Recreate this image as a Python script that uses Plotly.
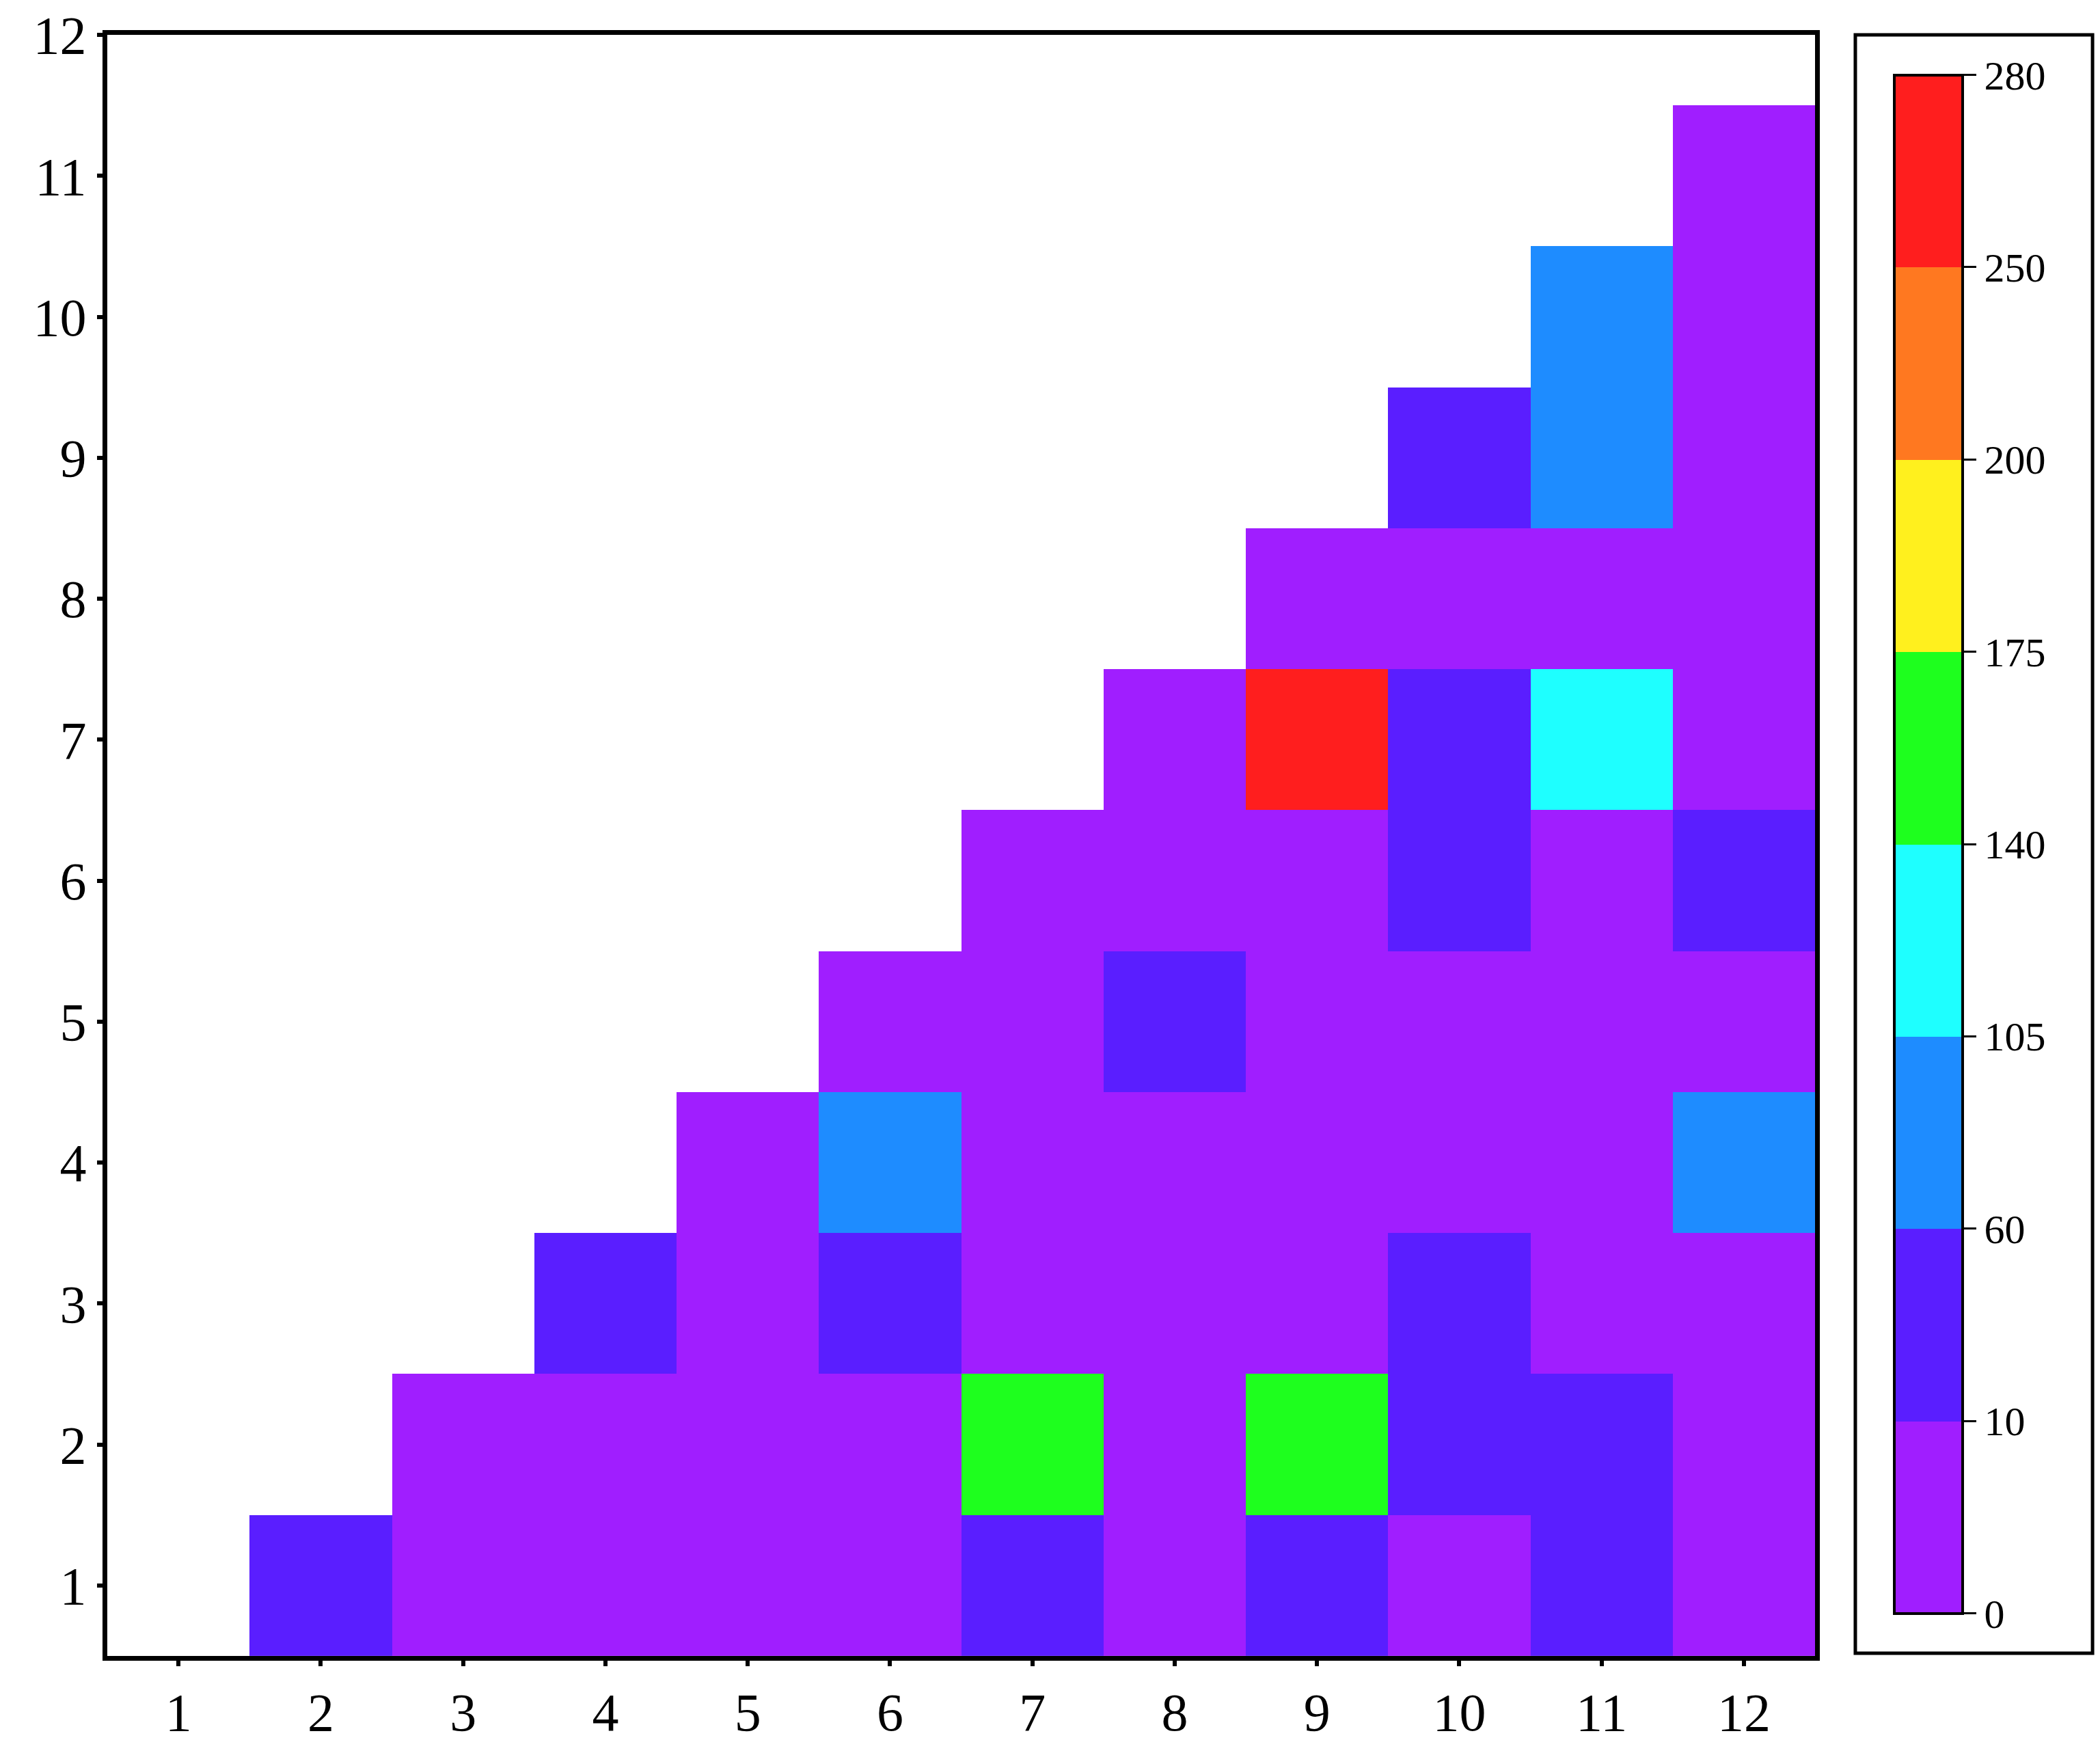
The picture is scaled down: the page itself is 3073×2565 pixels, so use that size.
import plotly.graph_objects as go
import numpy as np

xs = list(range(1, 13))
ys = list(range(1, 13))
bounds = [0, 10, 60, 105, 140, 175, 200, 250, 280]
colors = ["#A01EFF", "#5A1EFF", "#1E8CFF", "#1EFFFF", "#1EFF1E", "#FFF01E", "#FF7820", "#FF1E1E"]

p, b, a, c, g, r = 5, 30, 80, 120, 160, 265
# values per column x (rows y=1..x-1)
col_values = {
    2: [b],
    3: [p, p],
    4: [p, p, b],
    5: [p, p, p, p],
    6: [p, p, b, a, p],
    7: [b, g, p, p, p, p],
    8: [p, p, p, p, b, p, p],
    9: [b, g, p, p, p, p, r, p],
    10: [p, b, b, p, p, b, b, p, b],
    11: [b, b, p, p, p, p, c, p, a, a],
    12: [p, p, p, a, p, b, p, p, p, p, p],
}

z = np.full((len(ys), len(xs)), np.nan)
for x, vals in col_values.items():
    for i, v in enumerate(vals):
        idx = np.searchsorted(bounds, v, side="right") - 1
        z[i, x - 1] = idx + 0.5

cs = []
n = len(colors)
for i, col in enumerate(colors):
    cs.append([i / n, col])
    cs.append([(i + 1) / n, col])

fig = go.Figure(go.Heatmap(
    x=xs, y=ys, z=z, zmin=0, zmax=n, colorscale=cs,
    colorbar=dict(
        tickvals=list(range(n + 1)), ticktext=[str(v) for v in bounds],
        x=1.0424, xanchor="left", xref="paper", y=0.5008, yanchor="middle",
        len=0.9575, lenmode="fraction", thickness=100, thicknessmode="pixels",
        outlinecolor="black", outlinewidth=4, ticks="outside", ticklen=18,
        tickwidth=3, tickcolor="black",
        tickfont=dict(family="Liberation Serif", size=60, color="black"),
    ),
    hoverongaps=False,
))

axis_common = dict(
    showgrid=False, zeroline=False, ticks="outside", ticklen=8, tickwidth=6,
    tickcolor="black", showline=True, linecolor="black", linewidth=7, mirror=True,
    automargin=False, ticklabeloverflow="allow",
    tickfont=dict(family="Liberation Serif", size=78, color="black"),
)
fig.update_xaxes(range=[0.5, 12.5], tickvals=xs, **axis_common)
fig.update_yaxes(range=[0.5, 12.0001], tickvals=ys, **axis_common)

fig.add_shape(type="rect", xref="paper", yref="paper", x0=1.0236, x1=1.1625,
              y0=0.0017, y1=1.0, line=dict(color="black", width=5))

fig.update_layout(
    width=3073, height=2565, plot_bgcolor="white", paper_bgcolor="white",
    margin=dict(l=149, r=425, t=43, b=150, autoexpand=False),
)
fig.write_html("out.html")
